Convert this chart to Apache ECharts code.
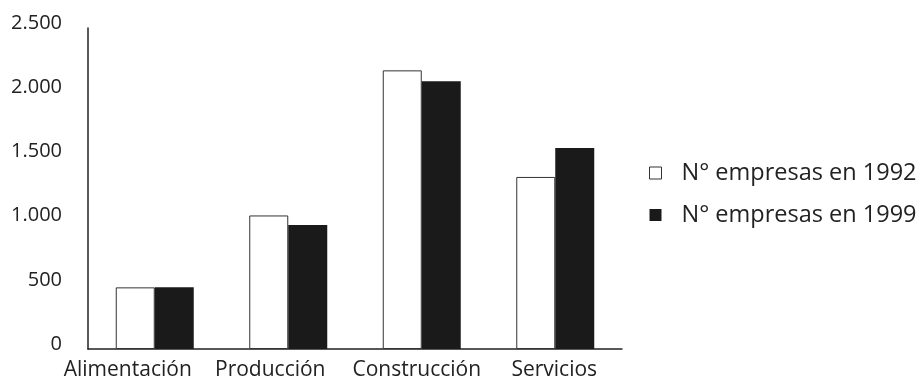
<!DOCTYPE html>
<html>
<head>
<meta charset="utf-8">
<script src="https://cdn.jsdelivr.net/npm/echarts@6/dist/echarts.min.js"></script>
<style>html,body{margin:0;padding:0;background:#fff;}#c{width:922px;height:386px;}</style>
</head>
<body>
<div id="c"></div>
<script>
const categories = ['Alimentación', 'Producción', 'Construcción', 'Servicios'];
const seriesNames = ['N° empresas en 1992', 'N° empresas en 1999'];
const values1992 = [480, 1040, 2170, 1340];
const values1999 = [480, 965, 2085, 1565];
const yTicks = [0, 500, 1000, 1500, 2000, 2500];

const fmt = v => '{y|' + (v >= 1000 ? String(v).replace(/(\d)(\d{3})$/, '$1.$2') : String(v)) + '}';
const font = '"Open Sans", "Noto Sans", sans-serif';
// left-shift of each category label (label styling only)
const labelShift = [54, 36, 10, 2];

const rich = {};
categories.forEach((c, i) => {
  rich['c' + i] = {fontFamily: font, fontSize: 21, color: '#222', padding: [0, labelShift[i], 0, 0]};
});

const chart = echarts.init(document.getElementById('c'), null, {renderer: 'canvas'});
chart.setOption({
  animation: false,
  backgroundColor: '#fff',
  textStyle: {fontFamily: font},
  grid: {left: 88, right: 300, top: 28, bottom: 37, containLabel: false},
  legend: {
    orient: 'vertical',
    left: 644, top: 155,
    itemWidth: 12, itemHeight: 12, itemGap: 16,
    icon: 'rect',
    textStyle: {fontFamily: font, fontSize: 23.5, lineHeight: 26, color: '#222', padding: [0, 0, 0, 15]},
    data: [
      {name: seriesNames[0], itemStyle: {color: '#fff', borderColor: '#333', borderWidth: 1}},
      {name: seriesNames[1], itemStyle: {color: '#1a1a1a'}}
    ]
  },
  xAxis: {
    type: 'category',
    data: categories,
    axisLine: {show: true, lineStyle: {color: '#222', width: 1.5}},
    axisTick: {show: false},
    axisLabel: {
      interval: 0, margin: 11, fontFamily: font, fontSize: 21, color: '#222',
      formatter: (v, i) => '{c' + i + '|' + v + '}',
      rich: rich
    }
  },
  yAxis: {
    type: 'value',
    min: yTicks[0], max: yTicks[yTicks.length - 1], interval: 500,
    axisLine: {show: true, lineStyle: {color: '#222', width: 1.5}},
    axisTick: {show: false},
    splitLine: {show: false},
    axisLabel: {
      margin: 26, formatter: fmt,
      rich: {y: {fontFamily: font, fontSize: 20, color: '#222', padding: [0, 0, 10, 0]}}
    }
  },
  series: [
    {name: seriesNames[0], type: 'bar', data: values1992, barWidth: 39, barGap: '0%',
     itemStyle: {color: '#fff', borderColor: '#333', borderWidth: 1}},
    {name: seriesNames[1], type: 'bar', data: values1999, barWidth: 39, barGap: '0%',
     itemStyle: {color: '#1a1a1a'}}
  ]
});
</script>
</body>
</html>
